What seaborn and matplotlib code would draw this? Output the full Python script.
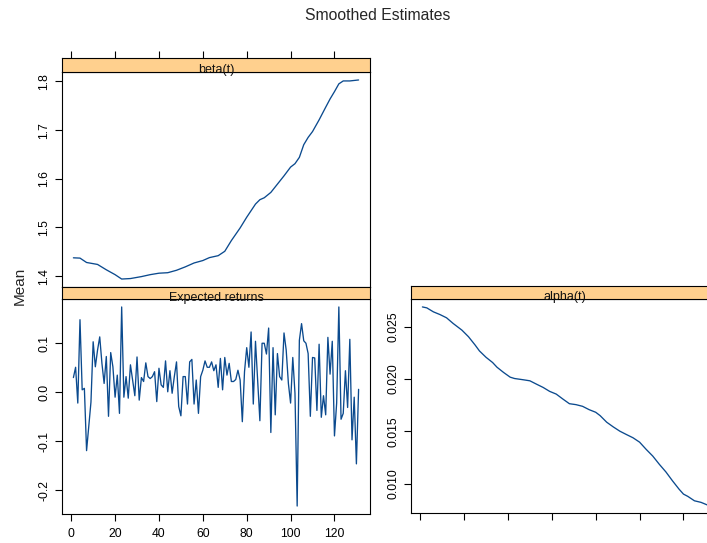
import matplotlib
matplotlib.use("Agg")
import matplotlib.pyplot as plt
import numpy as np
import pandas as pd
import seaborn as sns

# ---------------- data ----------------
ret_t = list(range(1, 132))
ret_mean = [
    0.030, 0.051, -0.022, 0.148, 0.005, 0.008, -0.119, -0.070, -0.020, 0.103,
    0.052, 0.086, 0.113, 0.059, 0.018, 0.073, -0.049, 0.081, 0.052, -0.010,
    0.035, -0.043, 0.174, -0.010, 0.032, -0.012, 0.056, 0.025, -0.007, 0.072,
    -0.016, 0.030, 0.022, 0.060, 0.032, 0.028, 0.032, 0.042, -0.019, 0.049,
    0.015, 0.010, 0.064, 0.001, 0.044, -0.002, 0.032, 0.062, -0.029, -0.048,
    0.032, 0.032, -0.024, 0.062, 0.067, -0.024, 0.025, -0.043, 0.032, 0.045,
    0.064, 0.051, 0.051, 0.062, 0.044, 0.056, 0.010, 0.069, 0.005, 0.071,
    0.035, 0.059, 0.022, 0.022, 0.026, 0.045, 0.025, -0.060, 0.042, 0.091,
    0.051, 0.123, -0.024, 0.104, 0.025, -0.058, 0.100, 0.100, 0.078, 0.131,
    -0.082, 0.091, -0.046, 0.079, 0.032, 0.025, 0.121, 0.086, 0.018, -0.022,
    0.071, -0.002, -0.232, 0.106, 0.140, 0.105, 0.100, 0.079, -0.049, 0.071,
    0.070, -0.037, 0.098, -0.051, -0.007, -0.046, 0.112, 0.037, 0.104, -0.089,
    -0.022, 0.174, -0.055, -0.043, 0.044, -0.031, 0.108, -0.097, -0.010, -0.146,
    0.006,
]

beta_t = [1, 4, 7, 12, 16, 20, 23, 27, 32, 36, 40, 44, 48, 52, 56, 60, 63, 67,
          70, 73, 77, 80, 84, 86, 88, 91, 94, 97, 100, 102, 104, 106, 108, 110,
          113, 116, 118, 120, 122, 124, 127, 131]
beta_mean = [1.4376, 1.437, 1.428, 1.424, 1.413, 1.403, 1.394, 1.395, 1.399,
             1.403, 1.406, 1.407, 1.412, 1.419, 1.427, 1.432, 1.438, 1.442,
             1.451, 1.473, 1.499, 1.521, 1.548, 1.557, 1.561, 1.572, 1.589,
             1.606, 1.624, 1.631, 1.644, 1.670, 1.685, 1.697, 1.721, 1.747,
             1.764, 1.779, 1.795, 1.801, 1.801, 1.803]

alpha_t = [1, 3, 6, 9, 12, 15, 19, 22, 25, 27, 30, 33, 35, 38, 41, 43, 47, 50,
           53, 56, 59, 62, 65, 68, 71, 74, 77, 80, 82, 85, 88, 91, 94, 97, 100,
           103, 106, 109, 112, 115, 118, 120, 122, 125, 128, 131]
alpha_mean = [0.02690, 0.02681, 0.02643, 0.02617, 0.02586, 0.02532, 0.02468,
              0.02405, 0.02326, 0.02269, 0.02208, 0.02158, 0.02113, 0.02063,
              0.02018, 0.02005, 0.01993, 0.01983, 0.01951, 0.01920, 0.01882,
              0.01856, 0.01809, 0.01764, 0.01755, 0.01739, 0.01707, 0.01682,
              0.01650, 0.01587, 0.01542, 0.01501, 0.01469, 0.01438, 0.01396,
              0.01327, 0.01263, 0.01184, 0.01111, 0.01026, 0.00946, 0.00899,
              0.00877, 0.00835, 0.00820, 0.00794]

title = "Smoothed Estimates"
ylab = "Mean"
strip_labels = ["beta(t)", "Expected returns", "alpha(t)"]
x_ticks = [0, 20, 40, 60, 80, 100, 120]
beta_ticks = [1.4, 1.5, 1.6, 1.7, 1.8]
ret_ticks = [-0.2, -0.1, 0.0, 0.1]
alpha_ticks = [0.010, 0.015, 0.020, 0.025]
beta_ticklabels = ["1.4", "1.5", "1.6", "1.7", "1.8"]
ret_ticklabels = ["-0.2", "-0.1", "0.0", "0.1"]
alpha_ticklabels = ["0.010", "0.015", "0.020", "0.025"]

# ---------------- style ----------------
sns.set_theme(style="white")
plt.rcParams['font.family'] = ['Liberation Sans', 'DejaVu Sans']
plt.rcParams['axes.unicode_minus'] = False

LINE = '#0B4A8E'
STRIP = '#FFD08E'
W, H = 707, 543
fig = plt.figure(figsize=(W / 100, H / 100), dpi=100)


def rect(l, r, t, b):
    return [l / W, 1 - b / H, (r - l) / W, (b - t) / H]


def ext(vals):
    lo, hi = min(vals), max(vals)
    d = (hi - lo) * 0.04
    return lo - d, hi + d


xlim = ext(ret_t)
TL = 4.8  # tick length pt


def panel(l, r, t, b, st, label, tvals, yvals, yticks, yticklabels,
          xlabels=False, top_ticks=False, bottom_ticks=True):
    ax = fig.add_axes(rect(l, r, t, b))
    df = pd.DataFrame({"t": tvals, "mean": yvals})
    sns.lineplot(data=df, x="t", y="mean", ax=ax, color=LINE, linewidth=0.95)
    ax.set_xlim(*xlim)
    ax.set_ylim(*ext(yvals))
    ax.set_xlabel("")
    ax.set_ylabel("")
    ax.set_yticks(yticks)
    ax.set_yticklabels(yticklabels, rotation=90, va="center")
    ax.tick_params(axis="y", left=True, direction="out", length=TL, width=0.8,
                   pad=3.5, labelsize=8.7, colors="black")
    if bottom_ticks:
        ax.set_xticks(x_ticks)
        ax.set_xticklabels([str(v) for v in x_ticks] if xlabels else [])
        ax.tick_params(axis="x", bottom=True, direction="out", length=TL,
                       width=0.8, pad=5, labelsize=8.7, colors="black")
    else:
        ax.set_xticks([])
    for s in ax.spines.values():
        s.set_color("black")
        s.set_linewidth(0.8)
    ax.set_facecolor("white")

    sax = fig.add_axes(rect(l, r, st, t))
    sax.set_facecolor(STRIP)
    sax.set_xlim(*xlim)
    sax.set_yticks([])
    if top_ticks:
        sax.xaxis.tick_top()
        sax.set_xticks(x_ticks)
        sax.set_xticklabels([])
        sax.tick_params(axis="x", top=True, direction="out", length=TL,
                        width=0.8, colors="black")
    else:
        sax.set_xticks([])
    for s in sax.spines.values():
        s.set_color("black")
        s.set_linewidth(0.8)
    sax.text(0.5, 0.12, label, transform=sax.transAxes, ha="center",
             va="center", fontsize=9, color="#111111", clip_on=False,
             zorder=5)
    return ax


panel(62, 370, 72, 287, 58, strip_labels[0], beta_t, beta_mean,
      beta_ticks, beta_ticklabels, xlabels=False, top_ticks=True,
      bottom_ticks=False)
panel(62, 370, 299, 514, 287, strip_labels[1], ret_t, ret_mean,
      ret_ticks, ret_ticklabels, xlabels=True)
panel(411, 719, 299, 513, 286, strip_labels[2], alpha_t, alpha_mean,
      alpha_ticks, alpha_ticklabels, xlabels=False)

fig.text(378 / W, 1 - 15 / H, title, ha="center", va="center", fontsize=11.3)
fig.text(20 / W, 1 - 286 / H, ylab, ha="center", va="center", rotation=90,
         fontsize=11)

fig.savefig("out.png", dpi=100)
